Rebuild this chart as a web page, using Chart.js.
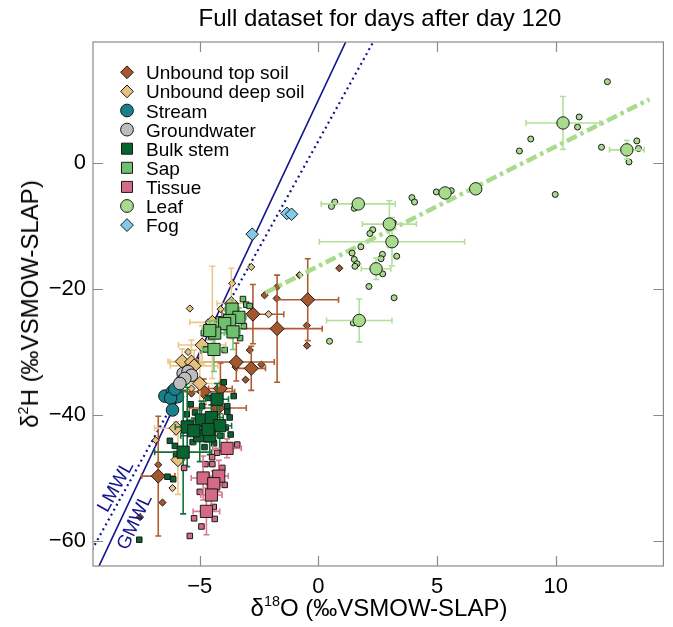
<!DOCTYPE html>
<html><head><meta charset="utf-8">
<script src="https://cdn.jsdelivr.net/npm/chart.js@4.4.0/dist/chart.umd.min.js"></script>
<style>
html,body{margin:0;padding:0;background:#fff;}
#wrap{position:relative;width:673px;height:627px;font-family:"Liberation Sans",Arial,Helvetica,sans-serif;overflow:hidden;}
canvas{position:absolute;left:0;top:0;}
.t{position:absolute;white-space:nowrap;color:#000;line-height:1;}
.t sup{font-size:0.6em;position:relative;top:-0.1em;vertical-align:super;line-height:0;}
</style></head><body>
<div id="wrap">
<canvas id="c" width="673" height="627"></canvas>
<div class="t" id="title" style="font-size:24px;left:380px;top:18px;transform:translate(-50%,-50%);">Full dataset for days after day 120</div>
<div class="t" id="xlab" style="font-size:24px;left:379px;top:608px;transform:translate(-50%,-50%);">δ<sup>18</sup>O (‰VSMOW-SLAP)</div>
<div class="t" id="ylab" style="font-size:24px;left:30px;top:304px;transform:translate(-50%,-50%) rotate(-90deg);">δ<sup>2</sup>H (‰VSMOW-SLAP)</div>
</div>
<script>
// ---------- data ----------
const xTicks = [-5, 0, 5, 10];
const yTicks = [0, -20, -40, -60];
const categories = ['Unbound top soil','Unbound deep soil','Stream','Groundwater','Bulk stem','Sap','Tissue','Leaf','Fog'];

// means: [d18O, d2H, d18O error, d2H error]
const topSoilMeans = [[-0.45,-21.7,1.3,6.5],[-1.74,-26.3,1.9,8.5],[-2.76,-24.0,1.3,4.7],[-3.46,-31.6,1.6,3.0],[-2.83,-32.6,0.6,3.5],[-4.83,-36.3,1.3,2.0],[-4.13,-35.8,0.5,4.0],[-4.24,-38.9,1.2,1.5],[-6.75,-49.7,0.7,9.5]];
const topSoilSamples = [[-0.8,-17.8],[0.88,-16.7],[-1.75,-19.7],[-2.27,-21.0],[-1.76,-21.5],[-0.49,-25.8],[-0.48,-29.0],[-2.89,-29.7],[-2.4,-32.0],[-3.07,-34.4],[-3.49,-32.4],[-6.57,-53.9],[-7.52,-56.2],[-6.75,-47.9],[-5.35,-36.6],[-5.35,-42.4]];

const deepSoilMeans = [[-4.47,-25.3,0.95,8.9],[-3.67,-22.3,0.6,5.6],[-4.9,-28.9,1.0,3.0],[-5.74,-31.5,0.6,2.0],[-5.35,-31.6,0.9,3.5],[-5.24,-32.2,1.0,2.5],[-5.0,-35.0,0.8,6.0],[-6.0,-42.1,0.9,1.0],[-5.92,-47.1,0.2,5.5]];
const deepSoilSamples = [[-5.42,-23.1],[-2.83,-16.5],[-3.63,-19.1],[-4.12,-23.2],[-4.65,-25.3],[-5.49,-30.0],[-5.35,-35.8],[-6.86,-44.0],[-6.15,-51.6],[-2.1,-24.0]];

const streamMeans = [[-6.47,-37.0,0,0],[-6.15,-36.3,0,0],[-5.94,-37.1,0,0],[-6.23,-37.3,0,0],[-6.05,-35.9,0,0],[-6.15,-39.2,0,0]];
const groundwaterMeans = [[-5.7,-33.4,0,0],[-5.49,-33.1,0,0],[-5.35,-33.7,0,0],[-5.77,-34.7,0,0],[-5.63,-34.2,0,0],[-5.84,-35.0,0,0]];

const stemMeans = [[-4.27,-37.5,0.48,2.5],[-4.93,-40.8,0.6,3.0],[-4.51,-40.4,0.5,2.0],[-4.16,-41.7,0.5,4.0],[-5.53,-41.9,0.5,6.3],[-5.0,-43.3,0.8,4.1],[-4.58,-43.3,0.6,3.0],[-5.7,-45.9,1.2,9.8],[-4.65,-42.3,0.4,2.0],[-5.25,-42.5,0.4,2.0]];
const stemSamples = [[-3.99,-34.8],[-3.57,-37.0],[-3.84,-38.6],[-3.84,-39.5],[-5.38,-38.3],[-4.65,-37.3],[-3.74,-40.4],[-6.26,-44.1],[-6.05,-44.9],[-6.0,-46.2],[-6.36,-49.8],[-6.12,-50.2],[-4.13,-43.3],[-7.55,-59.8],[-3.9,-42.0],[-5.2,-39.6],[-4.4,-44.5],[-5.3,-44.3],[-4.9,-38.6],[-3.7,-43.1],[-5.55,-39.9],[-4.8,-45.1]];

const sapMeans = [[-3.64,-23.2,0.3,1.5],[-3.35,-24.5,0.3,1.5],[-3.74,-25.0,0.4,2.0],[-3.95,-25.5,0.3,1.5],[-4.37,-27.0,0.4,2.0],[-3.6,-26.8,0.3,2.8],[-4.58,-26.6,0.3,1.5],[-4.4,-29.6,0.5,3.5]];
const sapSamples = [[-3.18,-21.6],[-3.04,-22.5],[-2.9,-22.7],[-4.83,-27.0],[-3.14,-25.9],[-3.95,-29.7],[-4.75,-29.6],[-4.2,-24.8],[-3.3,-27.8]];

const tissueMeans = [[-3.85,-45.3,0.6,1.5],[-4.86,-50.0,0.5,3.5],[-4.2,-49.7,0.4,2.5],[-4.41,-50.9,0.3,2.0],[-4.51,-52.7,0.45,2.0],[-4.72,-55.3,0.56,3.7]];
const tissueSamples = [[-3.42,-44.7],[-4.27,-46.0],[-4.48,-46.7],[-4.76,-47.8],[-4.47,-47.8],[-4.05,-48.4],[-3.95,-51.1],[-5.0,-52.2],[-4.41,-54.6],[-4.37,-56.5],[-5.24,-56.4],[-4.93,-57.7],[-5.42,-59.2],[-5.66,-48.4]];

const leafMeans = [[1.68,-6.5,1.56,0],[2.99,-9.7,1.14,3.7],[3.1,-12.5,3.06,3.85],[2.43,-16.8,0.62,1.7],[1.72,-25.0,1.38,3.4],[5.34,-4.76,0,0],[6.63,-4.1,0,0],[10.31,6.35,1.56,4.2],[13.0,2.08,0.73,1.5]];
const leafSamples = [[0.55,-6.9],[0.69,-6.2],[1.51,-7.2],[3.94,-5.5],[4.05,-6.2],[4.97,-4.6],[5.6,-4.4],[2.29,-10.6],[2.17,-11.2],[1.79,-13.3],[1.42,-14.3],[1.51,-15.3],[1.63,-16.0],[1.54,-16.4],[2.7,-14.5],[2.64,-15.2],[3.3,-14.8],[2.71,-17.6],[2.13,-19.6],[3.19,-21.4],[1.47,-25.4],[0.47,-28.3],[3.16,-9.5],[8.47,1.9],[8.95,3.8],[10.99,7.3],[10.92,5.7],[12.18,12.9],[11.93,2.5],[13.42,3.5],[13.49,2.3],[13.09,0.16],[9.98,-5.0]];

const fogSamples = [[-2.79,-11.3],[-1.33,-8.0],[-1.13,-8.14]];

// water lines: end points [d18O, d2H]
const gmwl = [[-10,-70],[2,26]];
const lmwl = [[-10,-64.5],[3,23.9]];
const leafLine = [[-2.23,-20.6],[13.95,10.1]];

// ---------- styles ----------
const FONT = '"Liberation Sans", Arial, Helvetica, sans-serif';
const NAVY = '#14148f';
const styles = {
  'Unbound top soil': {fill:'#A6562C', err:'#AE5D33', shape:'rectRot', big:7, small:3.6},
  'Unbound deep soil':{fill:'#E6C07D', err:'#EBC88A', shape:'rectRot', big:7, small:3.6},
  'Stream':           {fill:'#17808A', err:'#17808A', shape:'circle', big:6.3, small:3},
  'Groundwater':      {fill:'#BDBDBD', err:'#BDBDBD', shape:'circle', big:6.3, small:3},
  'Bulk stem':        {fill:'#08642F', err:'#12703A', shape:'rect', big:8.6, small:3.9},
  'Sap':              {fill:'#6CC06E', err:'#72C476', shape:'rect', big:8.6, small:3.9},
  'Tissue':           {fill:'#D46A85', err:'#DC7990', shape:'rect', big:8.6, small:3.9},
  'Leaf':             {fill:'#A8DC8C', err:'#B2E09A', shape:'circle', big:6.2, small:3},
  'Fog':              {fill:'#80C9EA', err:'#80C9EA', shape:'rectRot', big:6.3, small:6.3}
};

function pts(arr){ return arr.map(a => ({x:a[0], y:a[1], xe:a[2]||0, ye:a[3]||0})); }
function scatterSet(cat, arr, big){
  const s = styles[cat];
  return {label:cat, data:pts(arr), pointStyle:s.shape, pointRadius: big ? s.big : s.small,
    backgroundColor:s.fill, borderColor:'#1a1a1a', borderWidth:1, errColor:s.err, hasErr:big, showLine:false};
}
function lineSet(label, arr, color, width, dash){
  return {label, data:pts(arr), showLine:true, pointRadius:0, borderColor:color, borderWidth:width,
    borderDash:dash, borderCapStyle:'butt', fill:false};
}

const datasets = [
  lineSet('GMWL', gmwl, NAVY, 1.6, []),
  lineSet('LMWL', lmwl, NAVY, 2.2, [2, 3.6]),
  scatterSet('Unbound top soil', topSoilSamples, false),
  scatterSet('Unbound top soil', topSoilMeans, true),
  scatterSet('Unbound deep soil', deepSoilSamples, false),
  scatterSet('Unbound deep soil', deepSoilMeans, true),
  scatterSet('Stream', streamMeans, true),
  scatterSet('Groundwater', groundwaterMeans, true),
  scatterSet('Bulk stem', stemSamples, false),
  scatterSet('Bulk stem', stemMeans, true),
  scatterSet('Sap', sapSamples, false),
  scatterSet('Sap', sapMeans, true),
  scatterSet('Tissue', tissueSamples, false),
  scatterSet('Tissue', tissueMeans, true),
  lineSet('Leaf line', leafLine, '#A8DC8C', 4.5, [11, 4, 3.5, 4]),
  scatterSet('Leaf', leafSamples, false),
  scatterSet('Leaf', leafMeans, true),
  scatterSet('Fog', fogSamples, true)
];
datasets.forEach((d, i) => { d.order = datasets.length - i; });

// ---------- plugins ----------
const errorBarPlugin = {
  id: 'errbars',
  beforeDatasetDraw(chart, args) {
    const ds = chart.data.datasets[args.index];
    if (!ds.hasErr) return;
    const xs = chart.scales.x, ys = chart.scales.y, ctx = chart.ctx, a = chart.chartArea;
    ctx.save();
    ctx.beginPath(); ctx.rect(a.left, a.top, a.right - a.left, a.bottom - a.top); ctx.clip();
    ctx.strokeStyle = ds.errColor; ctx.lineWidth = 1.6;
    const cap = 3;
    ds.data.forEach(p => {
      const px = xs.getPixelForValue(p.x), py = ys.getPixelForValue(p.y);
      ctx.beginPath();
      if (p.xe > 0) {
        const l = xs.getPixelForValue(p.x - p.xe), r = xs.getPixelForValue(p.x + p.xe);
        ctx.moveTo(l, py); ctx.lineTo(r, py);
        ctx.moveTo(l, py - cap); ctx.lineTo(l, py + cap);
        ctx.moveTo(r, py - cap); ctx.lineTo(r, py + cap);
      }
      if (p.ye > 0) {
        const t = ys.getPixelForValue(p.y + p.ye), b = ys.getPixelForValue(p.y - p.ye);
        ctx.moveTo(px, t); ctx.lineTo(px, b);
        ctx.moveTo(px - cap, t); ctx.lineTo(px + cap, t);
        ctx.moveTo(px - cap, b); ctx.lineTo(px + cap, b);
      }
      ctx.stroke();
    });
    ctx.restore();
  }
};

const framePlugin = {
  id: 'frame',
  afterDraw(chart) {
    const ctx = chart.ctx, a = chart.chartArea, xs = chart.scales.x, ys = chart.scales.y;
    ctx.save();
    ctx.strokeStyle = '#8a8a8a'; ctx.lineWidth = 1.2;
    ctx.strokeRect(a.left, a.top, a.right - a.left, a.bottom - a.top);
    const tl = 10;
    ctx.beginPath();
    xTicks.forEach(v => {
      const x = Math.round(xs.getPixelForValue(v)) + 0.5;
      ctx.moveTo(x, a.bottom); ctx.lineTo(x, a.bottom - tl);
      ctx.moveTo(x, a.top); ctx.lineTo(x, a.top + tl);
    });
    yTicks.forEach(v => {
      const y = Math.round(ys.getPixelForValue(v)) + 0.5;
      ctx.moveTo(a.left, y); ctx.lineTo(a.left + tl, y);
      ctx.moveTo(a.right, y); ctx.lineTo(a.right - tl, y);
    });
    ctx.stroke();

    // water line labels
    const labels = chart.options.plugins.frame.lineLabels;
    labels.forEach(L => {
      const p1 = L.line[0], p2 = L.line[1];
      const dx = xs.getPixelForValue(p2[0]) - xs.getPixelForValue(p1[0]);
      const dy = ys.getPixelForValue(p2[1]) - ys.getPixelForValue(p1[1]);
      const ang = Math.atan2(dy, dx);
      ctx.save();
      ctx.translate(xs.getPixelForValue(L.at[0]), ys.getPixelForValue(L.at[1]));
      ctx.rotate(ang);
      ctx.fillStyle = NAVY; ctx.font = '19px ' + FONT;
      ctx.textAlign = 'center'; ctx.textBaseline = 'middle';
      ctx.fillText(L.text, 0, 0);
      ctx.restore();
    });

    // legend markers
    const lg = chart.options.plugins.frame.legend;
    categories.forEach((cat, i) => {
      const s = styles[cat];
      const y = lg.y0 + i * lg.dy;
      ctx.fillStyle = s.fill; ctx.strokeStyle = '#1a1a1a'; ctx.lineWidth = 1;
      Chart.helpers.drawPoint(ctx, {pointStyle: s.shape, radius: s.shape === 'rect' ? 7.8 : 6.4, rotation: 0, borderWidth: 1}, lg.x, y);
    });
    ctx.restore();
  }
};

function fmt(v){ return v < 0 ? '\u2212' + Math.abs(v) : String(v); }

const chart = new Chart(document.getElementById('c'), {
  type: 'scatter',
  data: { datasets },
  options: {
    responsive: false, animation: false, devicePixelRatio: 1,
    layout: { padding: { left: 0, right: 8, top: 42, bottom: 0 } },
    plugins: {
      legend: { display: false }, tooltip: { enabled: false }, title: { display: false },
      frame: {
        legend: { x: 127, y0: 72.3, dy: 19.1 },
        lineLabels: [
          { text: 'LMWL', line: lmwl, at: [-8.53, -51.4] },
          { text: 'GMWL', line: gmwl, at: [-7.73, -57.0] }
        ]
      }
    },
    scales: {
      x: {
        type: 'linear', min: -9.5, max: 14.54,
        grid: { display: false, drawTicks: false }, border: { display: false },
        afterBuildTicks: s => { s.ticks = xTicks.map(v => ({ value: v })); },
        afterFit: s => { s.height = 61; },
        ticks: { padding: 8, color: '#000', font: { family: FONT, size: 22 }, maxRotation: 0, autoSkip: false, callback: v => fmt(v) }
      },
      y: {
        type: 'linear', min: -63.97, max: 19.2,
        grid: { display: false, drawTicks: false }, border: { display: false },
        afterBuildTicks: s => { s.ticks = yTicks.map(v => ({ value: v })); },
        afterFit: s => { s.width = 93; },
        ticks: { padding: 7, color: '#000', font: { family: FONT, size: 22 }, autoSkip: false, callback: v => fmt(v) }
      }
    }
  },
  plugins: [errorBarPlugin, framePlugin]
});

// legend labels as HTML text
const wrap = document.getElementById('wrap');
categories.forEach((cat, i) => {
  const d = document.createElement('div');
  d.className = 't';
  d.style.fontSize = '19px';
  d.style.left = '146px';
  d.style.top = (72.3 + i * 19.1) + 'px';
  d.style.transform = 'translateY(-50%)';
  d.textContent = cat;
  wrap.appendChild(d);
});
</script>
</body></html>
